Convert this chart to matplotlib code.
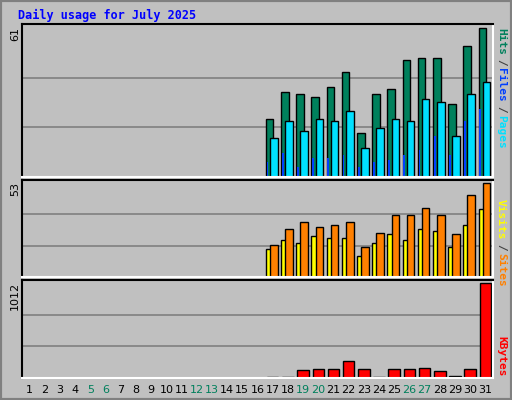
import matplotlib
matplotlib.use('Agg')
import matplotlib.pyplot as plt
from matplotlib.patches import Rectangle

# daily values for July 2025 (only days 17..31 have data)
days = list(range(1, 32))
hits   = [0]*16 + [24, 35, 34, 33, 37, 43, 18, 34, 36, 48, 49, 49, 30, 54, 61]
files  = [0]*16 + [16, 23, 19, 24, 23, 27, 12, 20, 24, 23, 32, 31, 17, 34, 39]
pages  = [0]*16 + [6, 10, 4, 8, 8, 9, 4, 6, 7, 9, 11, 17, 9, 23, 28]
visits = [0]*16 + [16, 21, 19, 23, 22, 22, 12, 19, 24, 21, 27, 26, 17, 29, 38]
sites  = [0]*16 + [18, 27, 31, 28, 29, 31, 17, 25, 35, 35, 39, 35, 24, 46, 53]
kbytes = [0]*16 + [8, 8, 89, 100, 100, 178, 100, 8, 100, 100, 111, 78, 22, 100, 1012]
weekend = [5, 6, 12, 13, 19, 20, 26, 27]

BG = '#c0c0c0'
W, H = 512, 400
fig = plt.figure(figsize=(W/100, H/100), dpi=100, facecolor=BG)
mono = 'DejaVu Sans Mono'

# outer bevel
fig.add_artist(Rectangle((0, 0), 1, 1, transform=fig.transFigure, fill=False,
                         edgecolor='#808080', lw=3))

def panel(top, bottom):
    ax = fig.add_axes([22/W, (H-bottom)/H, (493-22)/W, (bottom-top)/H])
    ax.set_facecolor(BG)
    ax.set_xlim(0.5, 31.5)
    ax.set_xticks([]); ax.set_yticks([])
    for s in ('top', 'left'):
        ax.spines[s].set_color('black')
    for s in ('bottom', 'right'):
        ax.spines[s].set_color('white')
    for sp in ax.spines.values():
        sp.set_linewidth(1.5)
    return ax

def grid(ax, mx):
    ax.set_ylim(0, mx*1.03)
    for f in (1/3, 2/3):
        ax.axhline(mx*f, color='#808080', lw=1.2, zorder=0)

kw = dict(edgecolor='black', linewidth=1, align='edge')

ax1 = panel(24, 177)
grid(ax1, max(hits))
x = [d - 0.45 for d in days]
ax1.bar(x, hits, width=0.5, color='#00805c', **kw)
ax1.bar([d - 0.4 for d in days], pages, width=0.12, color='#0040ff',
        linewidth=0, align='edge')
ax1.bar([d - 0.18 for d in days], files, width=0.5, color='#00e0ff', **kw)

ax2 = panel(180, 277)
grid(ax2, max(sites))
ax2.bar(x, visits, width=0.5, color='#ffff00', **kw)
ax2.bar([d - 0.18 for d in days], sites, width=0.5, color='#ff8000', **kw)

ax3 = panel(280, 378)
grid(ax3, max(kbytes))
ax3.bar([d - 0.38 for d in days], kbytes, width=0.76, color='#ff0000', **kw)

# title
fig.text(18/W, 1-15/H, 'Daily usage for July 2025', color='#0000ff',
         family=mono, weight='bold', fontsize=8.5, va='center')

# day labels
for d in days:
    px = 22 + (d - 0.5) / 31 * 471
    fig.text(px/W, 1-390/H, str(d), color='#00805c' if d in weekend else 'black',
             fontsize=8, ha='center', va='center')

# left max labels
for val, y in ((max(hits), 27), (max(sites), 182), (max(kbytes), 282)):
    fig.text(15/W, 1-y/H, str(val), rotation=90, fontsize=8, ha='center', va='top')

# right legends
def vlabel(parts, ytop):
    y = ytop
    for txt, col in parts:
        fig.text(501/W, 1-y/H, txt, rotation=270, color=col, family=mono,
                 weight='bold', fontsize=8, ha='center', va='top')
        y += len(txt)*7.2 + 2

vlabel([('Hits', '#00805c'), ('/', '#404040'), ('Files', '#0040ff'),
        ('/', '#404040'), ('Pages', '#00e0ff')], 28)
vlabel([('Visits', '#ffff00'), ('/', '#404040'), ('Sites', '#ff8000')], 199)
vlabel([('KBytes', '#ff0000')], 336)

fig.savefig('out.png', dpi=100, facecolor=BG)
